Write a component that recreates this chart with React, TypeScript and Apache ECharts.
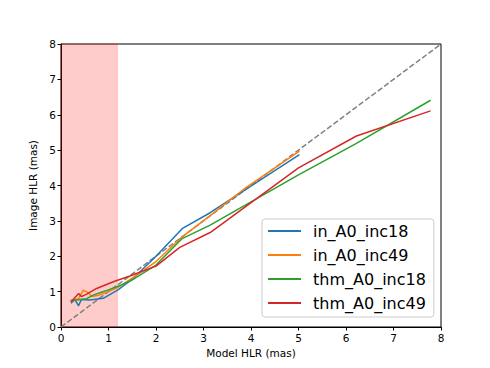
import React, { useEffect, useRef } from "react";
import * as echarts from "echarts";

const seriesNames = ["in_A0_inc18", "in_A0_inc49", "thm_A0_inc18", "thm_A0_inc49"];
const seriesColors = ["#1f77b4", "#ff7f0e", "#2ca02c", "#d62728"];

const inA0inc18: [number, number][] = [
  [0.21, 0.67], [0.29, 0.78], [0.37, 0.6], [0.43, 0.78], [0.61, 0.76], [0.89, 0.81],
  [1.2, 1.05], [1.5, 1.35], [2.0, 2.0], [2.55, 2.78], [3.14, 3.23], [3.9, 3.9], [5.02, 4.87],
];
const inA0inc49: [number, number][] = [
  [0.21, 0.76], [0.37, 0.8], [0.47, 1.04], [0.57, 0.97], [0.65, 0.86], [0.8, 0.9],
  [1.0, 1.0], [1.2, 1.12], [1.5, 1.38], [2.0, 1.85], [2.55, 2.55], [3.14, 3.15], [3.9, 3.95], [5.02, 4.97],
];
const thmA0inc18: [number, number][] = [
  [0.2, 0.74], [0.37, 0.77], [0.54, 0.8], [0.68, 0.9], [0.85, 0.98], [1.0, 1.05],
  [1.2, 1.15], [1.5, 1.33], [2.0, 1.75], [2.55, 2.5], [3.14, 2.88], [5.0, 4.3], [6.22, 5.19], [7.78, 6.41],
];
const thmA0inc49: [number, number][] = [
  [0.21, 0.71], [0.37, 0.95], [0.43, 0.86], [0.54, 0.93], [0.75, 1.09], [1.1, 1.28],
  [1.45, 1.44], [2.0, 1.72], [2.5, 2.25], [3.14, 2.67], [5.0, 4.5], [6.22, 5.4], [7.78, 6.11],
];
const seriesData = [inA0inc18, inA0inc49, thmA0inc18, thmA0inc49];

const diagonal: [number, number][] = [[0, 0], [8, 8]];
const shadedRange = [0, 1.185];
const axisMin = 0;
const axisMax = 8;
const axisInterval = 1;

const font = "DejaVu Sans";

export default function App() {
  const ref = useRef<HTMLDivElement>(null);
  useEffect(() => {
    if (!ref.current) return;
    const chart = echarts.init(ref.current, undefined, { renderer: "svg" });
    const axisCommon = {
      type: "value" as const,
      min: axisMin,
      max: axisMax,
      interval: axisInterval,
      nameLocation: "middle" as const,
      nameTextStyle: { fontFamily: font, fontSize: 10.5, color: "#000" },
      axisLine: { show: true, onZero: false, lineStyle: { color: "#000", width: 1 } },
      axisTick: { show: true, inside: false, length: 3.5, lineStyle: { color: "#000", width: 1 } },
      axisLabel: { fontFamily: font, fontSize: 10.5, color: "#000", margin: 5 },
      splitLine: { show: false },
    };
    chart.setOption({
      animation: false,
      backgroundColor: "#fff",
      grid: {
        left: 61, top: 44, width: 380, height: 283,
        show: true, borderColor: "#000", borderWidth: 1, backgroundColor: "transparent",
      },
      xAxis: { ...axisCommon, name: "Model HLR (mas)", nameGap: 20 },
      yAxis: { ...axisCommon, name: "Image HLR (mas)", nameGap: 20 },
      legend: {
        orient: "vertical",
        left: 262,
        top: 219,
        data: seriesNames,
        icon: "rect",
        itemWidth: 33,
        itemHeight: 2,
        itemGap: 8,
        padding: [4, 8, 6, 6],
        backgroundColor: "rgba(255,255,255,0.8)",
        borderColor: "#cccccc",
        borderWidth: 1,
        borderRadius: 3,
        textStyle: { fontFamily: font, fontSize: 16, color: "#000", padding: [0, 0, 0, 7] },
      },
      series: [
        {
          name: "diag",
          type: "line",
          data: diagonal,
          showSymbol: false,
          silent: true,
          z: 1,
          lineStyle: { color: "#808080", width: 1.5, type: [5.5, 2.4] },
          markArea: {
            silent: true,
            itemStyle: { color: "rgba(255,0,0,0.2)", borderColor: "rgba(255,0,0,0.2)", borderWidth: 1 },
            data: [[{ xAxis: shadedRange[0] }, { xAxis: shadedRange[1] }]],
          },
        },
        ...seriesNames.map((name, i) => ({
          name,
          type: "line",
          data: seriesData[i],
          showSymbol: false,
          z: 3,
          itemStyle: { color: seriesColors[i] },
          lineStyle: { color: seriesColors[i], width: 1.5 },
        })),
      ],
    });
    return () => chart.dispose();
  }, []);
  return (
    <div
      ref={ref}
      style={{ position: "fixed", left: 0, top: 0, width: 490, height: 368 }}
    />
  );
}
